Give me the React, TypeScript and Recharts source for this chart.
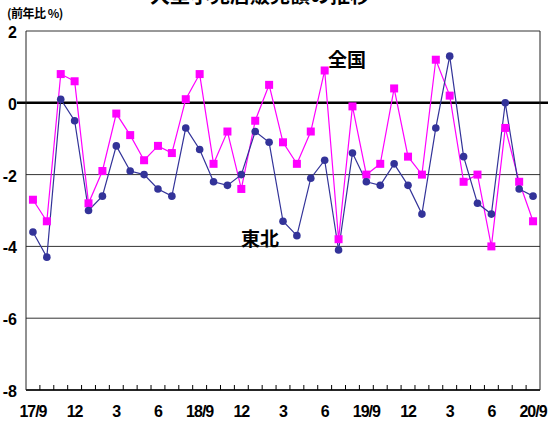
import { LineChart, Line, XAxis, YAxis, CartesianGrid, ReferenceLine } from "recharts"

const months = [
  "2017/9", "2017/10", "2017/11", "2017/12", "2018/1", "2018/2", "2018/3", "2018/4", "2018/5", "2018/6",
  "2018/7", "2018/8", "2018/9", "2018/10", "2018/11", "2018/12", "2019/1", "2019/2", "2019/3", "2019/4",
  "2019/5", "2019/6", "2019/7", "2019/8", "2019/9", "2019/10", "2019/11", "2019/12", "2020/1", "2020/2",
  "2020/3", "2020/4", "2020/5", "2020/6", "2020/7", "2020/8", "2020/9",
]

// 全国 (pink squares)
const zenkoku = [
  -2.7, -3.3, 0.8, 0.6, -2.8, -1.9, -0.3, -0.9, -1.6, -1.2,
  -1.4, 0.1, 0.8, -1.7, -0.8, -2.4, -0.5, 0.5, -1.1, -1.7,
  -0.8, 0.9, -3.8, -0.1, -2.0, -1.7, 0.4, -1.5, -2.0, 1.2,
  0.2, -2.2, -2.0, -4.0, -0.7, -2.2, -3.3,
]

// 東北 (blue circles)
const tohoku = [
  -3.6, -4.3, 0.1, -0.5, -3.0, -2.6, -1.2, -1.9, -2.0, -2.4,
  -2.6, -0.7, -1.3, -2.2, -2.3, -2.0, -0.8, -1.1, -3.3, -3.7,
  -2.1, -1.6, -4.1, -1.4, -2.2, -2.3, -1.7, -2.3, -3.1, -0.7,
  1.3, -1.5, -2.8, -3.1, 0.0, -2.4, -2.6,
]

const xTickLabels = ["17/9", "12", "3", "6", "18/9", "12", "3", "6", "19/9", "12", "3", "6", "20/9"]
const yTicks = [-8, -6, -4, -2, 0, 2]

const data = months.map((m, i) => ({ month: m, zenkoku: zenkoku[i], tohoku: tohoku[i] }))

const W = 550
const H = 428
const plotLeft = 26
const plotRight = 540
const step = (plotRight - plotLeft) / months.length

const numFont = "'Liberation Sans', Arial, sans-serif"
const jpFont = "'Noto Sans CJK JP', sans-serif"

function MonthTick(props: any) {
  const { x, y, index } = props
  const label = index % 3 === 0 ? xTickLabels[index / 3] : null
  return (
    <g>
      {index < months.length - 1 && (
        <line x1={x + step / 2} x2={x + step / 2} y1={y} y2={y - 5} stroke="#000" strokeWidth={1} />
      )}
      {label && (
        <text x={x} y={y + 27} textAnchor="middle" fontFamily={numFont} fontWeight={700} fontSize={16} letterSpacing={-1} fill="#000">
          {label}
        </text>
      )}
    </g>
  )
}

function ValueTick(props: any) {
  const { x, y, payload } = props
  return (
    <text x={x} y={y + 7} textAnchor="end" fontFamily={numFont} fontWeight={700} fontSize={16} fill="#000">
      {payload.value}
    </text>
  )
}

function SquareDot(props: any) {
  const { cx, cy, index } = props
  if (cx == null || cy == null) return <g key={index} />
  return <rect key={index} x={cx - 4} y={cy - 4} width={8} height={8} fill="#FF00FF" />
}

export default function App() {
  return (
    <div style={{ position: "absolute", left: 0, top: 0, width: W, height: H, background: "#fff" }}>
      <LineChart width={W} height={H} data={data} margin={{ top: 31, right: 0, left: 0, bottom: 0 }}>
        <CartesianGrid horizontal vertical={false} stroke="#333" strokeWidth={1} />
        <XAxis
          dataKey="month"
          interval={0}
          padding={{ left: step / 2, right: step / 2 }}
          tickLine={false}
          tickSize={0}
          tickMargin={0}
          height={38}
          axisLine={{ stroke: "#000", strokeWidth: 1.5 }}
          tick={<MonthTick />}
        />
        <YAxis
          domain={[-8, 2]}
          ticks={yTicks}
          width={26}
          tickLine={false}
          tickSize={0}
          tickMargin={9}
          axisLine={{ stroke: "#222", strokeWidth: 1 }}
          tick={<ValueTick />}
        />
        <YAxis yAxisId="r" orientation="right" domain={[-8, 2]} width={10} tick={false} tickLine={false} axisLine={{ stroke: "#222", strokeWidth: 1 }} />
        <ReferenceLine
          y={0}
          stroke="#000"
          strokeWidth={2.5}
          shape={(p: any) => <line x1={p.x1 - 9} y1={p.y1} x2={p.x2 + 8} y2={p.y2} stroke="#000" strokeWidth={2.5} />}
        />
        <Line
          dataKey="zenkoku"
          stroke="#FF00FF"
          strokeWidth={1.2}
          dot={<SquareDot />}
          activeDot={false}
          isAnimationActive={false}
        />
        <Line
          dataKey="tohoku"
          stroke="#333399"
          strokeWidth={1.2}
          dot={{ r: 3.8, fill: "#333399", stroke: "#333399", strokeWidth: 0 }}
          activeDot={false}
          isAnimationActive={false}
        />
      </LineChart>
      <svg width={W} height={H} style={{ position: "absolute", left: 0, top: 0, pointerEvents: "none" }}>
        <text x={260} y={3} textAnchor="middle" fontFamily={jpFont} fontWeight={700} fontSize={20} fill="#000">
          大型小売店販売額の推移
        </text>
        <text x={7} y={18} fontFamily={jpFont} fontWeight={700} fontSize={12} letterSpacing={-0.5} fill="#000">
          (前年比 %)
        </text>
        <text x={347} y={67} textAnchor="middle" fontFamily={jpFont} fontWeight={700} fontSize={19} fill="#000">
          全国
        </text>
        <text x={260} y={246} textAnchor="middle" fontFamily={jpFont} fontWeight={700} fontSize={19} fill="#000">
          東北
        </text>
      </svg>
    </div>
  )
}
